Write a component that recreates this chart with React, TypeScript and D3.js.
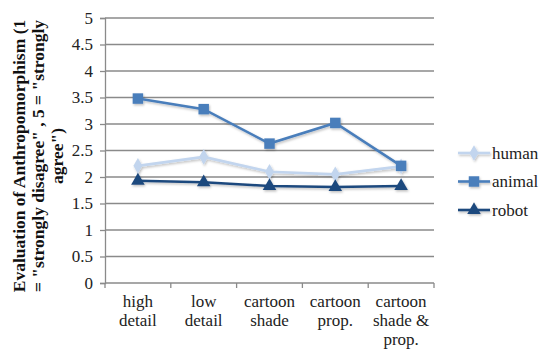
import React, { useRef, useEffect } from 'react'
import * as d3 from 'd3'

const categories = [
  ['high', 'detail'],
  ['low', 'detail'],
  ['cartoon', 'shade'],
  ['cartoon', 'prop.'],
  ['cartoon', 'shade &', 'prop.'],
]
const human = [2.21, 2.38, 2.1, 2.05, 2.2]
const animal = [3.48, 3.28, 2.63, 3.02, 2.21]
const robot = [1.93, 1.9, 1.83, 1.81, 1.83]
const yTicks = [0, 0.5, 1, 1.5, 2, 2.5, 3, 3.5, 4, 4.5, 5]
const titleLines = [
  'Evaluation of Anthropomorphism (1',
  '= "strongly disagree" , 5 = "strongly',
  'agree")',
]

const series = [
  { name: 'human', values: human, color: '#c2d5ee', shape: 'diamond' },
  { name: 'animal', values: animal, color: '#4a7ebb', shape: 'square' },
  { name: 'robot', values: robot, color: '#1f4a7e', shape: 'triangle' },
]

const layout = { width: 550, height: 360, left: 105, right: 434, top: 18, bottom: 283 }
const font = '"Liberation Serif", "Times New Roman", serif'

export default function App() {
  const ref = useRef<SVGSVGElement>(null)

  useEffect(() => {
    const svg = d3.select(ref.current)
    svg.selectAll('*').remove()

    const defs = svg.append('defs')
    const f = defs.append('filter').attr('id', 'shadow')
      .attr('x', '-50%').attr('y', '-50%').attr('width', '200%').attr('height', '200%')
    f.append('feDropShadow').attr('dx', 1).attr('dy', 1.5).attr('stdDeviation', 1.3)
      .attr('flood-color', '#000').attr('flood-opacity', 0.25)

    const x = d3.scaleBand<number>()
      .domain(d3.range(categories.length))
      .range([layout.left, layout.right])
    const y = d3.scaleLinear().domain([0, 5]).range([layout.bottom, layout.top])

    // gridlines
    svg.append('g').selectAll('line')
      .data(yTicks.filter(t => t > 0))
      .join('line')
      .attr('x1', layout.left).attr('x2', layout.right)
      .attr('y1', d => y(d)).attr('y2', d => y(d))
      .attr('stroke', '#8a8a8a').attr('stroke-width', 1.3)

    // y axis
    const yAxis = svg.append('g')
      .attr('transform', `translate(${layout.left},0)`)
      .call(d3.axisLeft(y).tickValues(yTicks).tickSize(5).tickPadding(7).tickFormat(d => String(d)))
    yAxis.select('.domain').attr('stroke', '#8a8a8a').attr('stroke-width', 1.3)
    yAxis.selectAll('.tick line').attr('stroke', '#8a8a8a').attr('stroke-width', 1.3)
    yAxis.selectAll('.tick text').attr('font-family', font).attr('font-size', 17).attr('fill', '#222')

    // x axis
    const xAxisG = svg.append('g').attr('transform', `translate(0,${layout.bottom})`)
    xAxisG.append('line')
      .attr('x1', layout.left).attr('x2', layout.right)
      .attr('stroke', '#8a8a8a').attr('stroke-width', 1.3)
    const bounds = d3.range(categories.length + 1).map(i =>
      i < categories.length ? x(i)! : x(categories.length - 1)! + x.bandwidth())
    xAxisG.selectAll('.xt').data(bounds).join('line')
      .attr('class', 'xt')
      .attr('x1', d => d).attr('x2', d => d)
      .attr('y1', 0).attr('y2', 5)
      .attr('stroke', '#8a8a8a').attr('stroke-width', 1.3)
    xAxisG.selectAll('.xl').data(categories).join('text')
      .attr('class', 'xl')
      .attr('text-anchor', 'middle')
      .attr('font-family', font).attr('font-size', 17).attr('fill', '#222')
      .attr('transform', (d, i) => `translate(${x(i)! + x.bandwidth() / 2},24)`)
      .each(function (d) {
        d3.select(this).selectAll('tspan').data(d).join('tspan')
          .attr('x', 0).attr('y', (t, j) => j * 19).text(t => t)
      })

    // y title
    svg.append('text')
      .attr('transform', `translate(19,156) rotate(-90)`)
      .attr('text-anchor', 'middle')
      .attr('font-family', font).attr('font-size', 17.5).attr('font-weight', 'bold').attr('fill', '#111')
      .selectAll('tspan').data(titleLines).join('tspan')
      .attr('x', 0).attr('y', (d, i) => i * 19.2 + 5.5).text(d => d)

    const symbolFor = (shape: string) =>
      shape === 'diamond' ? d3.symbol(d3.symbolDiamond, 70)
        : shape === 'square' ? d3.symbol(d3.symbolSquare, 110)
          : d3.symbol(d3.symbolTriangle, 80)

    const line = d3.line<number>()
      .x((d, i) => x(i)! + x.bandwidth() / 2)
      .y(d => y(d))

    const plot = svg.append('g').attr('filter', 'url(#shadow)')
    series.forEach(s => {
      plot.append('path')
        .datum(s.values)
        .attr('d', line)
        .attr('fill', 'none')
        .attr('stroke', s.color)
        .attr('stroke-width', 2.6)
      plot.selectAll(null).data(s.values).join('path')
        .attr('transform', (d, i) => `translate(${x(i)! + x.bandwidth() / 2},${y(d)})`)
        .attr('d', symbolFor(s.shape)())
        .attr('fill', s.color)
    })

    // legend
    const legend = svg.append('g').attr('transform', 'translate(458,153)')
    series.forEach((s, i) => {
      const g = legend.append('g').attr('transform', `translate(0,${i * 28.5})`)
      const gs = g.append('g').attr('filter', 'url(#shadow)')
      gs.append('line').attr('x1', 0).attr('x2', 32)
        .attr('stroke', s.color).attr('stroke-width', 2.6)
      gs.append('path').attr('transform', 'translate(16,0)')
        .attr('d', symbolFor(s.shape)()).attr('fill', s.color)
      g.append('text').attr('x', 34).attr('y', 5.5)
        .attr('font-family', font).attr('font-size', 17).attr('fill', '#222')
        .text(s.name)
    })
  }, [])

  return (
    <svg ref={ref} width={layout.width} height={layout.height}
      style={{ position: 'absolute', left: 0, top: 0, background: '#fff' }} />
  )
}
